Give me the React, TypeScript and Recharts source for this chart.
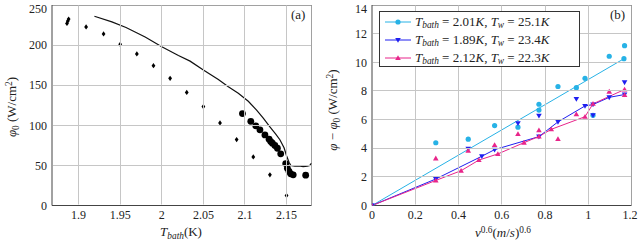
import React from 'react'
import { ComposedChart, Line, Scatter, XAxis, YAxis } from 'recharts'

// (a) heat flux vs bath temperature
const diamondT = [1.886, 1.887, 1.888, 1.909, 1.93, 1.95, 1.97, 1.99, 2.01, 2.03, 2.05, 2.07, 2.09, 2.11, 2.13, 2.15]
const diamondPhi = [227, 230, 232.5, 222.6, 213.9, 201, 189, 174.4, 158.6, 141, 123.3, 103, 82.2, 60.6, 38.2, 12.5]

const circleT = [2.097, 2.107, 2.113, 2.118, 2.124, 2.129, 2.131, 2.133, 2.136, 2.139, 2.143, 2.149, 2.151, 2.153, 2.155, 2.158, 2.173]
const circlePhi = [114.6, 105, 99.3, 94.3, 88, 82.6, 79.7, 77.7, 74.8, 71.4, 64.4, 52.3, 46.5, 42.4, 39.5, 38.2, 37.8]

const curveT = [1.919, 1.94, 1.957, 1.98, 2.0, 2.02, 2.034, 2.05, 2.068, 2.08, 2.092, 2.104, 2.114, 2.122, 2.13, 2.137, 2.142, 2.147, 2.15, 2.153, 2.155, 2.16, 2.165, 2.17, 2.175, 2.178, 2.18]
const curvePhi = [236, 229, 222, 210, 198, 187, 180, 169, 157, 148, 140, 130, 119, 109, 98, 89, 82, 72, 62, 54, 50, 49, 49.5, 48.5, 49, 50, 53]

const aXDomain = [1.868, 2.18]
const aYDomain = [0, 250]
const aXTicks = [1.9, 1.95, 2, 2.05, 2.1, 2.15]
const aYTicks = [0, 50, 100, 150, 200, 250]

// (b) excess heat flux vs v^0.6
const cyanFitX = [0, 1.165]
const cyanFitY = [0, 10.25]
const cyanX = [0.295, 0.445, 0.567, 0.675, 0.772, 0.772, 0.86, 0.945, 0.985, 1.022, 1.097, 1.168]
const cyanY = [4.38, 4.63, 5.58, 5.47, 7.07, 6.66, 8.31, 8.23, 8.88, 6.3, 10.42, 11.16]

const blueFitX = [0, 0.295, 0.508, 0.567, 0.772, 0.86, 0.985, 1.022, 1.097, 1.168]
const blueFitY = [0, 1.85, 3.44, 3.9, 4.81, 5.84, 6.95, 7.05, 7.55, 7.75]
const blueX = [0.445, 0.675, 0.772, 0.945, 1.022, 1.168]
const blueY = [3.97, 5.74, 6.27, 7.44, 6.3, 8.6]

const pinkFitX = [0, 0.295, 0.412, 0.494, 0.582, 0.703, 0.772, 0.829, 0.985, 1.022, 1.168]
const pinkFitY = [0, 1.75, 2.43, 3.17, 3.6, 4.39, 4.82, 5.32, 6.2, 7.1, 8.1]
const pinkX = [0.295, 0.445, 0.567, 0.675, 0.772, 0.86, 0.945, 1.097, 1.168]
const pinkY = [3.29, 3.83, 4.22, 4.99, 5.25, 4.64, 6.37, 7.95, 7.72]

const bXDomain = [0, 1.2]
const bYDomain = [0, 14]
const bXTicks = [0, 0.2, 0.4, 0.6, 0.8, 1, 1.2]
const bYTicks = [0, 2, 4, 6, 8, 10, 12, 14]

const legendItems = [
  { tbath: '2.01', tw: '25.1', color: '#27b2e6', marker: 'circle' },
  { tbath: '1.89', tw: '23.4', color: '#1f1ff0', marker: 'down' },
  { tbath: '2.12', tw: '22.3', color: '#e8258a', marker: 'up' },
]

const zip = (xs: number[], ys: number[]) => xs.map((x, i) => ({ x, y: ys[i] }))

const SERIF = '"Liberation Serif", "DejaVu Serif", serif'
const FRAME = '#444'
const GRID = '#c6c6c6'

// plot box inside each 320x244 chart
const PLOT = { left: 52, right: 311.5, top: 5, bottom: 205.5 }

function Marker({ cx, cy, kind, color }: { cx: number; cy: number; kind: string; color: string }) {
  if (cx == null || cy == null) return null
  if (kind === 'circle') return <circle cx={cx} cy={cy} r={2.6} fill={color} />
  if (kind === 'bigcircle') return <circle cx={cx} cy={cy} r={3.4} fill={color} />
  if (kind === 'diamond')
    return <polygon points={`${cx},${cy - 2.6} ${cx + 1.9},${cy} ${cx},${cy + 2.6} ${cx - 1.9},${cy}`} fill={color} />
  if (kind === 'down')
    return <polygon points={`${cx - 2.8},${cy - 2} ${cx + 2.8},${cy - 2} ${cx},${cy + 2.8}`} fill={color} />
  return <polygon points={`${cx - 2.8},${cy + 2} ${cx + 2.8},${cy + 2} ${cx},${cy - 2.8}`} fill={color} />
}

const shape = (kind: string, color: string) => (p: any) => <Marker cx={p.cx} cy={p.cy} kind={kind} color={color} />

// snap to the pixel grid so 1px grid lines stay crisp
const crisp = (v: number) => Math.floor(v) + 0.5

// tick renderers that also draw the grid line at the tick position from the axis
const xTick = (domain: number[]) => (p: any) => {
  const v = p.payload.value
  const edge = v === domain[0] || v === domain[1]
  return (
    <g>
      {!edge && <line x1={crisp(p.x)} x2={crisp(p.x)} y1={PLOT.top + 0.5} y2={PLOT.bottom - 1} stroke={GRID} strokeWidth={1} />}
      <text x={p.x} y={p.y} dy="0.71em" textAnchor="middle" fill="#222" fontSize={12} fontFamily={SERIF}>
        {String(v)}
      </text>
    </g>
  )
}

const yTick = (domain: number[]) => (p: any) => {
  const v = p.payload.value
  const edge = v === domain[0] || v === domain[1]
  return (
    <g>
      {!edge && <line x1={PLOT.left + 1} x2={PLOT.right - 0.5} y1={crisp(p.y)} y2={crisp(p.y)} stroke={GRID} strokeWidth={1} />}
      <text x={p.x} y={p.y} dy="0.355em" textAnchor="end" fill="#222" fontSize={12} fontFamily={SERIF}>
        {String(v)}
      </text>
    </g>
  )
}

const chartMargin = { top: PLOT.top, right: 320 - PLOT.right, bottom: 0, left: 0 }

function frame(xd: number[], yd: number[]) {
  return [
    <Line key="ftop" data={[{ x: xd[0], y: yd[1] }, { x: xd[1], y: yd[1] }]} dataKey="y" stroke={FRAME} strokeWidth={1} dot={false} isAnimationActive={false} />,
    <Line key="fright" data={[{ x: xd[1], y: yd[0] }, { x: xd[1], y: yd[1] }]} dataKey="y" stroke={FRAME} strokeWidth={1} dot={false} isAnimationActive={false} />,
  ]
}

function axes(xDomain: number[], xTicks: number[], yDomain: number[], yTicks: number[]) {
  return [
    <XAxis
      key="x"
      dataKey="x"
      type="number"
      domain={xDomain}
      ticks={xTicks}
      height={244 - PLOT.bottom}
      tick={xTick(xDomain)}
      tickLine={false}
      tickSize={5}
      tickMargin={0}
      axisLine={{ stroke: FRAME }}
      allowDataOverflow
    />,
    <YAxis
      key="y"
      type="number"
      domain={yDomain}
      ticks={yTicks}
      width={PLOT.left}
      tick={yTick(yDomain)}
      tickLine={false}
      tickSize={5}
      tickMargin={0}
      axisLine={{ stroke: FRAME }}
      allowDataOverflow
    />,
  ]
}

function PanelA() {
  return (
    <ComposedChart width={320} height={244} margin={chartMargin}>
      {axes(aXDomain, aXTicks, aYDomain, aYTicks)}
      {frame(aXDomain, aYDomain)}
      <Line data={zip(curveT, curvePhi)} dataKey="y" stroke="#111" strokeWidth={1.2} dot={false} isAnimationActive={false} />
      <Scatter data={zip(diamondT, diamondPhi)} dataKey="y" shape={shape('diamond', '#000')} isAnimationActive={false} />
      <Scatter data={zip(circleT, circlePhi)} dataKey="y" shape={shape('bigcircle', '#000')} isAnimationActive={false} />
    </ComposedChart>
  )
}

function PanelB() {
  const fits = [zip(cyanFitX, cyanFitY), zip(blueFitX, blueFitY), zip(pinkFitX, pinkFitY)]
  const pts = [zip(cyanX, cyanY), zip(blueX, blueY), zip(pinkX, pinkY)]
  return (
    <ComposedChart width={320} height={244} margin={chartMargin}>
      {axes(bXDomain, bXTicks, bYDomain, bYTicks)}
      {frame(bXDomain, bYDomain)}
      {legendItems.map((s, i) => (
        <Line
          key={`fit${i}`}
          data={fits[i]}
          dataKey="y"
          stroke={s.color}
          strokeWidth={1}
          dot={(p: any) => <Marker key={`d${i}-${p.index}`} cx={p.cx} cy={p.cy} kind={s.marker} color={s.color} />}
          isAnimationActive={false}
        />
      ))}
      {legendItems.map((s, i) => (
        <Scatter key={`pts${i}`} data={pts[i]} dataKey="y" shape={shape(s.marker, s.color)} isAnimationActive={false} />
      ))}
    </ComposedChart>
  )
}

function LegendIcon({ color, marker }: { color: string; marker: string }) {
  return (
    <svg width={26} height={10} style={{ marginRight: 4, flex: 'none' }}>
      <line x1={0} y1={5} x2={26} y2={5} stroke={color} strokeWidth={1} />
      <Marker cx={13} cy={5} kind={marker} color={color} />
    </svg>
  )
}

const sub: React.CSSProperties = { fontSize: '0.72em', position: 'relative', top: '0.3em' }
const sup: React.CSSProperties = { fontSize: '0.72em', position: 'relative', top: '-0.45em' }

export default function App() {
  return (
    <div style={{ position: 'fixed', left: 0, top: 0, width: 640, height: 244, background: '#fff', fontFamily: SERIF, color: '#222' }}>
      <div style={{ position: 'absolute', left: 0, top: 0 }}>
        <PanelA />
      </div>
      <div style={{ position: 'absolute', left: 320, top: 0 }}>
        <PanelB />
      </div>

      {/* panel tags */}
      <div style={{ position: 'absolute', left: 291, top: 7, fontSize: 13, lineHeight: '16px' }}>(a)</div>
      <div style={{ position: 'absolute', left: 610, top: 7, fontSize: 13, lineHeight: '16px' }}>(b)</div>

      {/* axis labels */}
      <div style={{ position: 'absolute', left: 181, top: 232, transform: 'translate(-50%,-50%)', fontSize: 13, lineHeight: '16px', whiteSpace: 'nowrap' }}>
        <i>T</i><i style={sub}>bath</i>(K)
      </div>
      <div style={{ position: 'absolute', left: 503, top: 233, transform: 'translate(-50%,-50%)', fontSize: 13, lineHeight: '16px', whiteSpace: 'nowrap' }}>
        <i>v</i><span style={sup}>0.6</span>(<i>m</i>/<i>s</i>)<span style={sup}>0.6</span>
      </div>
      <div style={{ position: 'absolute', left: 12, top: 107, transform: 'translate(-50%,-50%) rotate(-90deg)', fontSize: 13, lineHeight: '16px', whiteSpace: 'nowrap' }}>
        <i>φ</i><span style={sub}>0</span> (W/cm<span style={sup}>2</span>)
      </div>
      <div style={{ position: 'absolute', left: 333, top: 110, transform: 'translate(-50%,-50%) rotate(-90deg)', fontSize: 13, lineHeight: '16px', whiteSpace: 'nowrap' }}>
        <i>φ</i> − <i>φ</i><span style={sub}>0</span> (W/cm<span style={sup}>2</span>)
      </div>

      {/* legend */}
      <div
        style={{
          position: 'absolute', left: 379, top: 11, width: 201, height: 56, border: '1px solid #333', background: '#fff',
          fontSize: 13, paddingTop: 1, boxSizing: 'border-box',
        }}
      >
        {legendItems.map((s) => (
          <div key={s.tbath} style={{ display: 'flex', alignItems: 'center', height: 18, whiteSpace: 'nowrap', paddingLeft: 5, lineHeight: '18px' }}>
            <LegendIcon color={s.color} marker={s.marker} />
            <span>
              <i>T</i><i style={sub}>bath</i> = {s.tbath}<i>K</i>, <i>T</i><i style={sub}>w</i> = {s.tw}<i>K</i>
            </span>
          </div>
        ))}
      </div>
    </div>
  )
}
